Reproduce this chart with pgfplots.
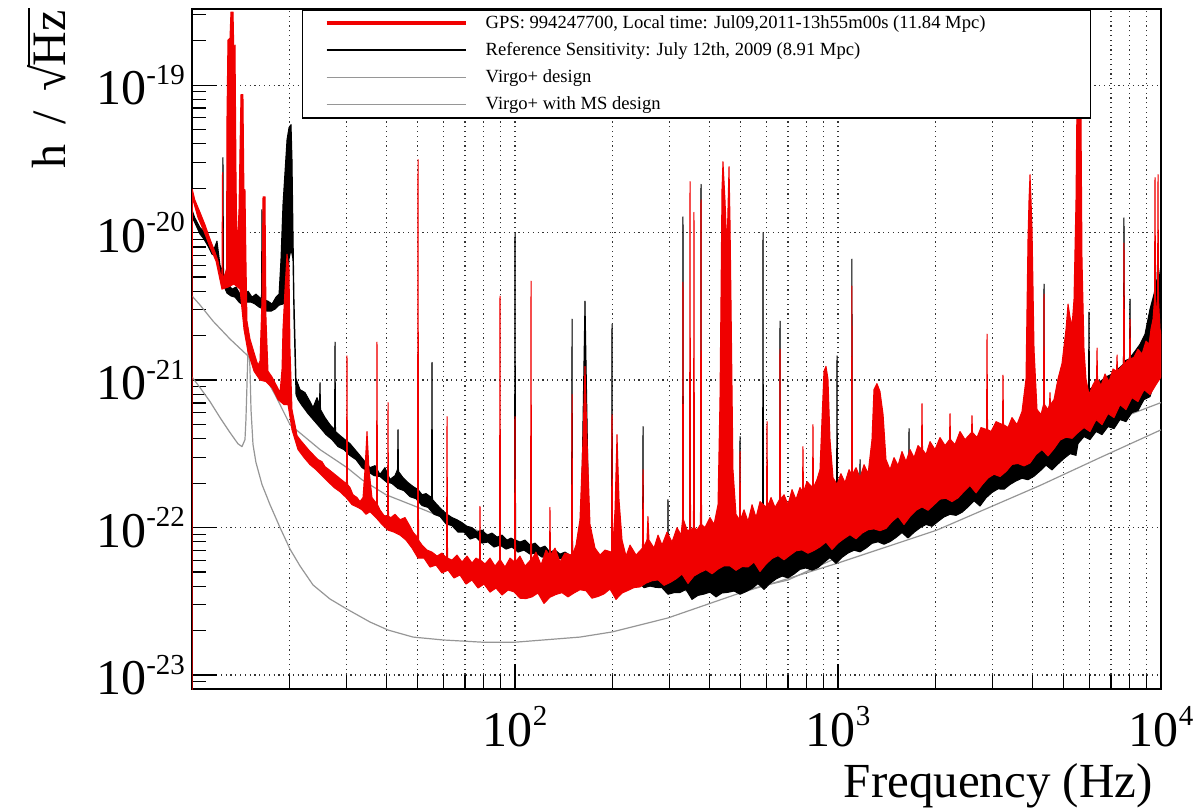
\documentclass[border=0pt]{standalone}
\usepackage{pgfplots}
\pgfplotsset{compat=1.18}
\usepackage{fontspec}
\setmainfont{Liberation Serif}
\definecolor{rootred}{RGB}{240,0,0}
\definecolor{designgray}{RGB}{150,150,150}
\newcommand{\tenpow}[1]{10\raisebox{10.4pt}{\fontsize{14.5}{16}\selectfont #1}}

\begin{document}
\begin{tikzpicture}
\useasboundingbox (-96pt,-60pt) rectangle (503.5pt,344.5pt);
\begin{axis}[
  at={(0pt,0pt)}, anchor=south west,
  scale only axis, width=484.5pt, height=340pt,
  xmode=log, ymode=log,
  xmin=10, xmax=10000, ymin=8.04e-24, ymax=3.28e-19,
  xtick={100,1000,10000},
  xticklabels={\tenpow{2},\tenpow{3},\tenpow{4}},
  minor xtick={20,30,40,50,60,70,80,90,200,300,400,500,600,700,800,900,2000,3000,4000,5000,6000,7000,8000,9000},
  ytick={1e-23,1e-22,1e-21,1e-20,1e-19},
  yticklabels={\tenpow{-23},\tenpow{-22},\tenpow{-21},\tenpow{-20},\tenpow{-19}},
  minor ytick={9e-24,2e-23,3e-23,4e-23,5e-23,6e-23,7e-23,8e-23,9e-23,2e-22,3e-22,4e-22,5e-22,6e-22,7e-22,8e-22,9e-22,2e-21,3e-21,4e-21,5e-21,6e-21,7e-21,8e-21,9e-21,2e-20,3e-20,4e-20,5e-20,6e-20,7e-20,8e-20,9e-20,2e-19,3e-19},
  tick pos=left, tick align=inside,
  major tick length=12.5pt, minor tick length=7pt,
  tick style={black, line width=0.6pt},
  axis line style={black, line width=0.8pt},
  xmajorgrids, xminorgrids, ymajorgrids,
  major grid style={black!80, line width=0.6pt, dash pattern=on 0.6pt off 1.8pt},
  minor grid style={black!80, line width=0.6pt, dash pattern=on 0.6pt off 1.8pt},
  tick label style={font=\fontsize{25}{30}\selectfont},
  xticklabel style={yshift=-5pt},
  legend style={at={(0.1135,1)}, anchor=north west, draw=black, line width=0.75pt, fill=white,
    inner xsep=11pt, inner ysep=0pt, row sep=0pt, column sep=5pt,
    font=\fontsize{9.3}{11}\selectfont,
    nodes={inner xsep=4pt, inner ysep=0pt, text height=9.5pt, text depth=4pt}},
  legend cell align=left,
  reverse legend,
]
% Virgo+ with MS design
\addplot[designgray, line width=0.6pt, line join=round,
  legend image code/.code={\draw[designgray, line width=0.6pt] (0pt,0pt) -- (69.5pt,0pt);}]
coordinates {(10.0,1.05e-21) (10.59,8.89e-22) (11.37,7.15e-22) (12.21,5.57e-22) (13.11,4.41e-22) (13.88,3.70e-22) (14.28,3.54e-22) (14.59,3.95e-22) (14.69,5.40e-22) (14.80,9.3e-22) (14.91,1.62e-21) (15.01,1.75e-21) (15.12,1.19e-21) (15.23,6.3e-22) (15.45,3.65e-22) (15.78,2.76e-22) (16.47,1.96e-22) (17.44,1.43e-22) (18.73,1.0e-22) (20.11,7.15e-23) (21.60,5.49e-23) (23.70,4.08e-23) (26.74,3.28e-23) (30.19,2.80e-23) (35.57,2.29e-23) (40.45,2.02e-23) (48.33,1.81e-23) (59.86,1.73e-23) (79.61,1.67e-23) (100,1.67e-23) (158.9,1.81e-23) (199.7,1.96e-23) (297.6,2.44e-23) (497.3,3.60e-23) (661.4,4.34e-23) (1000,5.75e-23) (2025,9.62e-23) (4222,1.93e-22) (6474,2.98e-22) (10000,4.6e-22)};
\addlegendentry{Virgo+ with MS design}
% Virgo+ design
\addplot[designgray, line width=0.6pt, line join=round,
  legend image code/.code={\draw[designgray, line width=0.6pt] (0pt,0pt) -- (69.5pt,0pt);}]
coordinates {(10,3.72e-21) (10.59,3.23e-21) (11.62,2.51e-21) (13.11,1.90e-21) (14.80,1.48e-21) (16.47,1.15e-21) (18.07,7.98e-22) (20.11,4.99e-22) (24.91,3.38e-22) (30.19,2.55e-22) (33.6,2.11e-22) (39.86,1.67e-22) (50.09,1.37e-22) (59.86,1.17e-22) (80.2,9.18e-23) (100,7.61e-23) (150.2,5.49e-23) (199.7,4.55e-23) (299.9,3.89e-23) (324.2,3.77e-23) (331.2,4.41e-23) (338.4,3.71e-23) (401.5,3.65e-23) (500.8,3.71e-23) (700.1,4.41e-23) (1000,6.3e-23) (1997,1.43e-22) (3174,2.29e-22) (5008,3.95e-22) (10000,7.04e-22)};
\addlegendentry{Virgo+ design}
% Reference sensitivity 2009: upper trace, then lower trace back
\addplot[draw=black, fill=black, line width=0.5pt, line join=round,
  legend image code/.code={\draw[black, line width=1pt] (0pt,0pt) -- (69.5pt,0pt);}]
coordinates {(10.04,1.39e-20) (10.2,1.26e-20) (10.59,1.08e-20) (10.97,1.00e-20) (11.37,8.36e-21) (11.70,7.73e-21) (11.95,8.76e-21) (12.21,6.02e-21) (12.43,5.48e-21) (12.47,3.22e-20) (12.52,5.23e-21) (12.92,4.48e-21) (13.30,4.14e-21) (13.69,4.27e-21) (14.08,3.83e-21) (14.49,3.65e-21) (14.91,4.01e-21) (15.34,3.65e-21) (15.78,3.83e-21) (16.41,3.54e-21) (16.47,1.43e-20) (16.53,3.54e-21) (17.19,3.43e-21) (17.69,3.28e-21) (18.20,3.65e-21) (18.60,3.83e-21) (18.86,6.61e-21) (19.13,1.55e-20) (19.41,2.59e-20) (19.69,4.27e-20) (19.97,5.15e-20) (20.26,5.40e-20) (20.40,3.13e-20) (20.54,1.05e-20) (20.69,3.54e-21) (20.99,1.02e-21) (21.60,8.62e-22) (22.38,8.23e-22) (23.20,7.15e-22) (23.70,6.51e-22) (24.38,7.61e-22) (24.81,6.82e-22) (24.91,9.62e-22) (25.00,6.31e-22) (25.81,5.57e-22) (26.74,4.99e-22) (27.62,4.62e-22) (27.72,1.81e-21) (27.82,4.48e-22) (28.72,4.21e-22) (29.76,3.95e-22) (30.84,3.71e-22) (31.96,3.38e-22) (33.12,3.08e-22) (34.32,2.80e-22) (35.57,2.55e-22) (36.87,2.63e-22) (38.19,2.29e-22) (39.58,2.55e-22) (41.02,2.12e-22) (42.51,2.25e-22) (43.27,2.47e-22) (43.43,4.62e-22) (43.59,2.40e-22) (45.01,2.18e-22) (46.64,2.02e-22) (48.33,1.90e-22) (50.09,1.81e-22) (51.54,1.67e-22) (53.04,1.70e-22) (55.14,1.60e-22) (55.34,1.32e-21) (55.54,1.55e-22) (57.36,1.43e-22) (59.43,1.32e-22) (61.60,1.23e-22) (63.83,1.17e-22) (66.14,1.13e-22) (68.54,1.08e-22) (71.03,1.02e-22) (73.60,1.00e-22) (76.28,9.32e-23) (79.06,9.62e-23) (81.92,8.89e-23) (84.88,9.18e-23) (87.97,8.62e-23) (91.17,8.89e-23) (94.45,8.23e-23) (97.19,8.49e-23) (99.65,8.23e-23) (100,1.00e-20) (100.4,8.23e-23) (103.6,7.98e-23) (107.4,8.23e-23) (111.3,7.61e-23) (115.3,7.85e-23) (119.5,7.26e-23) (123.8,7.49e-23) (128.3,6.82e-23) (133.0,7.04e-23) (137.8,6.61e-23) (142.8,6.82e-23) (149.6,6.41e-23) (150.2,2.59e-21) (150.7,6.41e-23) (155.6,6.21e-23) (160.1,7.61e-23) (162.4,5.40e-22) (164.7,3.43e-21) (167.1,5.40e-22) (169.5,8.23e-23) (175.6,6.21e-23) (182.0,5.84e-23) (190.0,6.02e-23) (199.0,5.75e-23) (199.7,2.40e-21) (200.4,5.75e-23) (204.0,8.23e-23) (206.9,2.47e-22) (209.9,7.61e-23) (217.6,5.57e-23) (225.4,5.84e-23) (235.2,5.40e-23) (248.1,5.57e-23) (249.1,4.84e-22) (250.0,5.57e-23) (258.0,5.40e-23) (267.5,5.75e-23) (277.2,5.31e-23) (287.2,5.57e-23) (296.6,5.48e-23) (297.6,1.55e-22) (298.7,5.48e-23) (308.5,5.31e-23) (319.6,5.57e-23) (330.1,5.48e-23) (331.2,1.28e-20) (332.4,5.48e-23) (343.2,5.40e-23) (355.7,5.66e-23) (375.2,5.48e-23) (376.6,2.12e-20) (378.0,5.48e-23) (390.2,5.40e-23) (404.5,5.75e-23) (419.2,5.48e-23) (434.2,6.02e-23) (450.0,5.75e-23) (466.4,6.21e-23) (479.8,5.84e-23) (495.5,6.21e-23) (497.3,4.14e-22) (499.1,6.21e-23) (515.2,6.41e-23) (534.1,6.02e-23) (553.4,6.61e-23) (569.4,6.31e-23) (583.9,6.82e-23) (585.9,1.00e-20) (588.0,6.82e-23) (607.3,6.61e-23) (624.8,7.26e-23) (642.7,6.82e-23) (659.1,7.38e-23) (661.4,2.51e-21) (663.8,7.38e-23) (685.4,7.49e-23) (710.3,8.23e-23) (736.0,7.85e-23) (762.7,8.76e-23) (790.3,8.23e-23) (818.9,9.32e-23) (848.6,8.89e-23) (879.4,1.00e-22) (911.3,9.47e-23) (944.6,1.06e-22) (989.5,1.03e-22) (992.9,1.46e-21) (996.5,1.03e-22) (1029,1.10e-22) (1066,1.05e-22) (1101,1.13e-22) (1104,6.61e-21) (1108,1.13e-22) (1137,1.21e-22) (1166,1.23e-22) (1170,2.89e-22) (1174,1.23e-22) (1212,1.28e-22) (1256,1.23e-22) (1302,1.37e-22) (1349,1.32e-22) (1398,1.48e-22) (1449,1.43e-22) (1502,1.55e-22) (1556,1.50e-22) (1612,1.67e-22) (1653,1.62e-22) (1659,4.69e-22) (1665,1.62e-22) (1707,1.75e-22) (1769,1.70e-22) (1859,1.87e-22) (1954,1.96e-22) (2069,2.12e-22) (2191,2.25e-22) (2319,2.40e-22) (2455,2.55e-22) (2599,2.80e-22) (2752,2.98e-22) (2914,3.22e-22) (3085,3.49e-22) (3266,3.71e-22) (3457,3.95e-22) (3660,4.27e-22) (3875,4.62e-22) (4102,4.99e-22) (4327,5.23e-22) (4343,4.48e-21) (4358,5.23e-22) (4532,5.57e-22) (4731,5.93e-22) (4938,6.31e-22) (5154,6.82e-22) (5378,7.15e-22) (5494,8.62e-22) (5614,7.98e-22) (5776,8.36e-22) (5963,8.62e-22) (5985,2.89e-21) (6006,8.62e-22) (6204,9.18e-22) (6474,9.77e-22) (6757,1.05e-21) (7053,1.10e-21) (7360,1.19e-21) (7653,1.28e-21) (7680,1.26e-20) (7708,1.35e-21) (7988,1.39e-21) (8017,3.54e-21) (8046,1.43e-21) (8307,1.57e-21) (8610,1.75e-21) (8923,2.05e-21) (9247,3.03e-21) (9512,3.83e-21) (9719,4.84e-21) (9789,7.73e-21) (9824,4.48e-21) (10000,6.12e-21)
 (10000,1.50e-21) (9650,1.05e-21) (9247,7.73e-22) (8859,7.38e-22) (8487,6.21e-22) (8131,6.02e-22) (7791,5.23e-22) (7466,5.40e-22) (7154,4.69e-22) (6854,4.84e-22) (6567,4.27e-22) (6293,4.48e-22) (6029,3.95e-22) (5776,4.14e-22) (5534,3.71e-22) (5455,3.09e-22) (5228,3.17e-22) (5008,2.94e-22) (4799,2.70e-22) (4598,2.46e-22) (4406,2.65e-22) (4222,2.42e-22) (4045,2.23e-22) (3875,2.11e-22) (3712,2.16e-22) (3557,2.07e-22) (3408,1.96e-22) (3266,1.82e-22) (3129,1.83e-22) (2998,1.73e-22) (2872,1.59e-22) (2752,1.40e-22) (2637,1.52e-22) (2526,1.38e-22) (2421,1.27e-22) (2319,1.21e-22) (2222,1.23e-22) (2129,1.18e-22) (2040,1.10e-22) (1954,1.02e-22) (1873,1.05e-22) (1794,9.96e-23) (1719,9.28e-23) (1647,8.50e-23) (1578,9.25e-23) (1512,8.57e-23) (1449,8.03e-23) (1388,7.71e-23) (1330,8.01e-23) (1274,7.82e-23) (1221,7.26e-23) (1170,6.85e-23) (1121,7.02e-23) (1074,6.72e-23) (1029,6.28e-23) (985.9,5.71e-23) (944.6,6.26e-23) (904.9,5.81e-23) (867.2,5.35e-23) (830.9,5.14e-23) (796.1,5.33e-23) (762.7,5.21e-23) (730.8,4.84e-23) (700.2,4.56e-23) (671.0,4.69e-23) (642.7,4.48e-23) (616.0,4.18e-23) (590.1,3.81e-23) (565.4,4.17e-23) (541.9,3.87e-23) (519.1,3.68e-23) (497.3,3.53e-23) (476.4,3.72e-23) (456.5,3.64e-23) (437.3,3.60e-23) (419.2,3.39e-23) (401.5,3.65e-23) (384.7,3.54e-23) (368.6,3.47e-23) (353.2,3.26e-23) (338.4,3.80e-23) (324.2,3.63e-23) (310.7,3.62e-23) (297.6,3.53e-23) (285.2,3.91e-23) (273.3,3.93e-23) (261.8,4.01e-23) (250.8,3.91e-23) (240.4,4.34e-23) (230.2,4.28e-23) (220.7,4.32e-23) (211.4,4.11e-23) (202.6,4.88e-23) (194.1,4.74e-23) (186.0,4.79e-23) (178.2,4.75e-23) (170.7,5.42e-23) (163.6,5.38e-23) (156.7,5.57e-23) (150.2,5.42e-23) (143.8,5.75e-23) (137.8,6.21e-23) (132.0,6.02e-23) (126.5,6.41e-23) (121.2,6.31e-23) (116.1,6.72e-23) (111.3,6.61e-23) (106.6,7.04e-23) (102.2,6.82e-23) (97.88,7.38e-23) (93.78,7.15e-23) (89.86,7.61e-23) (86.10,7.38e-23) (82.48,7.98e-23) (79.06,7.85e-23) (75.72,8.62e-23) (72.56,8.36e-23) (69.53,9.32e-23) (66.60,9.32e-23) (63.83,1.03e-22) (61.15,1.06e-22) (58.60,1.19e-22) (56.14,1.23e-22) (53.79,1.37e-22) (51.54,1.41e-22) (49.38,1.57e-22) (47.31,1.62e-22) (45.33,1.78e-22) (43.43,1.84e-22) (41.61,1.99e-22) (39.86,2.05e-22) (38.19,2.22e-22) (36.60,2.25e-22) (35.07,2.40e-22) (33.60,2.55e-22) (32.19,2.89e-22) (30.84,3.08e-22) (29.55,3.38e-22) (28.31,3.54e-22) (27.13,3.95e-22) (25.99,4.27e-22) (24.91,4.77e-22) (23.87,5.31e-22) (22.86,5.93e-22) (21.91,6.72e-22) (21.29,7.38e-22) (20.99,7.98e-22) (20.69,2.59e-21) (20.54,6.61e-21) (20.26,7.73e-21) (19.97,6.61e-21) (19.69,3.54e-21) (19.41,3.38e-21) (19.13,3.28e-21) (18.60,3.22e-21) (18.07,3.03e-21) (17.56,2.93e-21) (17.07,2.93e-21) (16.59,3.03e-21) (16.12,3.13e-21) (15.67,3.28e-21) (15.23,3.38e-21) (14.80,3.38e-21) (14.38,3.22e-21) (13.98,3.38e-21) (13.59,3.65e-21) (13.20,3.72e-21) (12.83,3.89e-21) (12.56,4.34e-21) (12.30,4.84e-21) (12.12,5.84e-21) (11.87,6.93e-21) (11.53,7.15e-21) (11.21,8.10e-21) (10.89,9.04e-21) (10.59,9.77e-21) (10.29,1.12e-20) (10.04,1.26e-20)};
\addlegendentry{Reference Sensitivity: July 12th, 2009 (8.91 Mpc)}
% GPS 994247700: upper trace, then lower trace back
\addplot[draw=rootred, fill=rootred, line width=0.5pt, line join=round,
  legend image code/.code={\draw[rootred, line width=2pt] (0pt,0pt) -- (69.5pt,0pt);}]
coordinates {(10,5e-24) (10.02,1.96e-20) (10.2,1.67e-20) (10.59,1.37e-20) (10.97,1.13e-20) (11.37,9.04e-21) (11.78,7.38e-21) (12.04,6.41e-21) (12.30,4.99e-21) (12.38,4.84e-21) (12.43,2.55e-20) (12.47,4.84e-21) (12.65,5.23e-21) (12.79,5.66e-21) (12.83,5.84e-20) (12.92,2.02e-19) (13.11,2.08e-19) (13.20,3.13e-19) (13.40,3.13e-19) (13.49,1.48e-19) (13.59,1.87e-19) (13.69,2.29e-20) (13.79,7.15e-21) (13.98,1.43e-20) (14.08,3.65e-20) (14.18,8.62e-20) (14.38,8.62e-20) (14.49,1.67e-20) (14.59,1.96e-20) (14.69,6.61e-21) (14.80,2.51e-21) (15.12,1.90e-21) (15.45,1.62e-21) (15.78,1.39e-21) (16.01,1.26e-21) (16.24,1.35e-21) (16.47,3.54e-21) (16.59,1.75e-20) (16.83,1.75e-20) (16.95,2.59e-21) (17.19,1.15e-21) (17.69,1.05e-21) (18.20,9.32e-22) (18.73,8.23e-22) (19.0,1.19e-21) (19.13,2.22e-21) (19.41,4.14e-21) (19.69,7.15e-21) (19.97,5.66e-21) (20.11,1.62e-21) (20.40,6.31e-22) (20.84,4.99e-22) (21.14,4.21e-22) (21.60,3.95e-22) (22.38,3.60e-22) (23.20,3.28e-22) (23.70,3.13e-22) (24.55,2.89e-22) (25.26,2.80e-22) (25.81,2.59e-22) (26.74,2.44e-22) (27.72,2.29e-22) (28.72,2.15e-22) (29.76,2.02e-22) (30.08,1.96e-22) (30.19,1.46e-21) (30.30,1.96e-22) (30.84,1.87e-22) (31.51,1.67e-22) (32.42,1.60e-22) (33.12,1.50e-22) (33.84,1.60e-22) (34.32,2.47e-22) (34.82,4.48e-22) (35.32,2.47e-22) (36.08,1.60e-22) (36.87,1.50e-22) (37.26,1.43e-22) (37.39,1.81e-21) (37.53,1.43e-22) (38.19,1.32e-22) (39.29,1.21e-22) (40.30,1.19e-22) (40.45,7.04e-22) (40.59,1.19e-22) (41.32,1.17e-22) (42.51,1.23e-22) (44.06,1.13e-22) (45.65,1.17e-22) (47.31,1.02e-22) (48.33,9.32e-23) (49.73,8.62e-23) (49.90,8.23e-23) (50.09,3.13e-20) (50.27,8.23e-23) (51.54,7.61e-23) (53.41,7.04e-23) (55.34,6.82e-23) (57.36,6.41e-23) (59.43,6.72e-23) (61.38,6.21e-23) (61.60,5.66e-22) (61.82,6.21e-23) (63.83,6.02e-23) (66.14,6.51e-23) (68.54,5.84e-23) (71.03,6.41e-23) (73.60,5.75e-23) (75.72,6.21e-23) (77.64,6.02e-23) (77.92,1.39e-22) (78.20,6.02e-23) (80.75,5.66e-23) (83.68,6.21e-23) (86.72,5.48e-23) (89.55,6.02e-23) (89.86,3.71e-21) (90.17,6.02e-23) (93.12,5.40e-23) (96.50,6.21e-23) (99.65,5.84e-23) (100,5.66e-22) (100.4,5.84e-23) (103.6,6.41e-23) (107.4,5.48e-23) (111.7,6.02e-23) (112.1,4.69e-21) (112.5,6.02e-23) (116.1,6.82e-23) (120.4,5.57e-23) (124.7,7.04e-23) (127.9,6.51e-23) (128.3,1.37e-22) (128.8,6.51e-23) (133.0,7.26e-23) (137.8,5.84e-23) (142.8,6.72e-23) (149.6,6.51e-23) (150.2,7.98e-22) (150.7,6.51e-23) (154.5,7.61e-23) (158.9,1.13e-22) (162.4,3.95e-22) (164.7,1.24e-21) (167.1,3.95e-22) (170.7,1.05e-22) (176.9,7.26e-23) (183.4,6.51e-23) (190.0,7.04e-23) (199.0,6.82e-23) (199.7,5.84e-22) (200.4,6.82e-23) (204.0,1.32e-22) (206.9,4.27e-22) (209.9,1.55e-22) (214.5,8.23e-23) (220.7,6.41e-23) (227.0,7.61e-23) (237.0,6.51e-23) (248.1,7.26e-23) (249.1,2.47e-22) (250.0,7.26e-23) (256.2,8.23e-23) (258.0,1.19e-22) (259.9,8.23e-23) (269.4,7.26e-23) (277.2,8.89e-23) (285.2,7.61e-23) (295.6,9.32e-23) (306.3,7.98e-23) (317.4,1.00e-22) (326.6,8.89e-23) (330.1,1.13e-22) (331.2,4.62e-21) (332.4,1.13e-22) (340.9,9.62e-23) (347.0,9.62e-23) (348.2,2.22e-20) (349.5,9.62e-23) (356.9,1.00e-22) (358.2,1.37e-20) (359.4,1.00e-22) (365.9,9.62e-23) (375.2,1.05e-22) (376.6,1.67e-20) (378.0,1.05e-22) (387.4,1.00e-22) (401.5,1.17e-22) (413.2,1.05e-22) (425.1,1.43e-22) (431.1,7.38e-22) (434.2,3.54e-21) (437.3,1.96e-20) (440.4,3.03e-20) (446.8,1.67e-20) (453.2,7.73e-21) (459.8,2.80e-20) (463.0,1.23e-20) (466.3,3.54e-21) (473.0,2.47e-22) (483.3,1.23e-22) (495.5,1.13e-22) (497.3,3.28e-22) (499.1,1.13e-22) (511.7,1.32e-22) (526.6,1.10e-22) (541.9,1.43e-22) (557.5,1.17e-22) (573.5,1.50e-22) (600.6,1.37e-22) (602.9,5.23e-22) (605.1,1.37e-22) (620.4,1.60e-22) (638.3,1.37e-22) (659.1,1.55e-22) (661.4,1.62e-21) (663.8,1.55e-22) (680.5,1.67e-22) (700.2,1.43e-22) (720.6,1.81e-22) (741.3,1.55e-22) (762.7,1.87e-22) (776.4,1.75e-22) (779.1,3.54e-22) (781.9,1.75e-22) (801.7,2.05e-22) (833.9,1.87e-22) (836.6,4.99e-22) (839.6,1.87e-22) (861.0,2.12e-22) (879.4,2.47e-22) (892.0,5.40e-22) (904.9,1.15e-21) (917.9,1.24e-21) (931.0,1.02e-21) (944.6,3.95e-22) (965.0,2.18e-22) (992.9,1.96e-22) (1021,2.32e-22) (1051,2.02e-22) (1082,2.47e-22) (1101,2.29e-22) (1104,4.34e-21) (1108,2.29e-22) (1137,2.55e-22) (1170,2.18e-22) (1204,2.67e-22) (1239,2.32e-22) (1274,3.95e-22) (1292,8.62e-22) (1320,9.47e-22) (1349,8.36e-22) (1379,5.84e-22) (1408,2.89e-22) (1449,2.47e-22) (1491,2.98e-22) (1534,2.63e-22) (1578,3.28e-22) (1624,2.80e-22) (1671,3.38e-22) (1719,2.98e-22) (1769,3.60e-22) (1813,3.38e-22) (1820,6.93e-22) (1827,3.38e-22) (1873,3.13e-22) (1927,3.83e-22) (1997,3.38e-22) (2069,4.08e-22) (2145,3.60e-22) (2214,3.95e-22) (2222,5.93e-22) (2230,3.95e-22) (2302,3.65e-22) (2386,4.48e-22) (2473,3.95e-22) (2590,4.41e-22) (2599,5.75e-22) (2609,4.41e-22) (2694,4.08e-22) (2771,4.77e-22) (2883,4.62e-22) (2893,2.05e-21) (2904,4.62e-22) (2977,4.48e-22) (3085,5.23e-22) (3231,4.99e-22) (3242,1.08e-21) (3254,4.99e-22) (3360,4.77e-22) (3457,5.57e-22) (3582,4.99e-22) (3712,6.12e-22) (3820,1.02e-21) (3875,9.04e-21) (3903,1.67e-20) (3931,2.47e-20) (3959,1.67e-20) (3988,1.05e-20) (4045,1.62e-21) (4132,6.31e-22) (4251,5.84e-22) (4327,6.82e-22) (4343,3.83e-21) (4358,6.82e-22) (4468,6.31e-22) (4515,6.82e-22) (4532,8.23e-22) (4548,6.82e-22) (4664,7.38e-22) (4799,1.02e-21) (4938,1.30e-21) (5081,2.22e-21) (5154,3.28e-21) (5228,2.67e-21) (5302,2.32e-21) (5378,3.54e-21) (5455,1.67e-20) (5494,7.98e-20) (5534,2.02e-19) (5614,2.02e-19) (5654,5.84e-20) (5694,6.61e-21) (5776,1.62e-21) (5859,1.02e-21) (5985,7.98e-22) (6160,9.32e-22) (6315,1.02e-21) (6338,1.65e-21) (6361,1.02e-21) (6521,9.18e-22) (6710,1.10e-21) (6902,9.77e-22) (7103,1.19e-21) (7284,1.15e-21) (7310,1.48e-21) (7336,1.15e-21) (7518,1.23e-21) (7653,1.28e-21) (7680,8.49e-21) (7708,1.28e-21) (7846,1.35e-21) (7988,1.39e-21) (8017,2.59e-21) (8046,1.39e-21) (8248,1.43e-21) (8487,1.62e-21) (8733,1.50e-21) (8986,1.84e-21) (9181,1.75e-21) (9311,2.22e-21) (9445,2.59e-21) (9547,3.54e-21) (9581,2.36e-20) (9615,3.54e-21) (9719,2.59e-21) (9754,3.54e-21) (9789,2.47e-20) (9824,3.54e-21) (9929,2.22e-21) (10000,2.05e-21)
 (10000,1.05e-21) (9650,9.32e-22) (9247,7.98e-22) (8859,8.62e-22) (8487,7.15e-22) (8131,7.61e-22) (7791,6.31e-22) (7466,6.82e-22) (7154,5.57e-22) (6854,5.93e-22) (6567,4.99e-22) (6293,5.40e-22) (6029,4.48e-22) (5776,4.77e-22) (5534,4.41e-22) (5302,4.03e-22) (5081,4.10e-22) (4868,3.92e-22) (4664,3.43e-22) (4468,3.06e-22) (4281,3.38e-22) (4102,3.13e-22) (3931,2.74e-22) (3766,2.62e-22) (3608,2.72e-22) (3457,2.68e-22) (3313,2.40e-22) (3174,2.22e-22) (3041,2.30e-22) (2914,2.17e-22) (2792,1.95e-22) (2675,1.72e-22) (2562,1.93e-22) (2455,1.76e-22) (2352,1.59e-22) (2254,1.50e-22) (2160,1.58e-22) (2069,1.56e-22) (1983,1.43e-22) (1900,1.31e-22) (1820,1.38e-22) (1744,1.31e-22) (1671,1.19e-22) (1601,1.05e-22) (1534,1.19e-22) (1470,1.10e-22) (1408,9.87e-23) (1349,9.53e-23) (1292,9.80e-23) (1239,9.67e-23) (1187,9.17e-23) (1137,8.39e-23) (1089,8.96e-23) (1044,8.43e-23) (1000,7.85e-23) (958.2,7.11e-23) (917.9,7.98e-23) (879.4,7.40e-23) (842.6,7.00e-23) (807.5,6.70e-23) (773.9,7.06e-23) (741.3,6.96e-23) (710.3,6.50e-23) (680.5,6.05e-23) (652.1,6.46e-23) (624.8,6.17e-23) (598.5,5.66e-23) (573.5,5.04e-23) (549.5,5.84e-23) (526.6,5.41e-23) (504.5,5.44e-23) (483.3,5.13e-23) (463.0,5.50e-23) (443.7,5.51e-23) (425.1,5.23e-23) (407.4,4.86e-23) (390.2,5.18e-23) (373.9,4.96e-23) (358.2,4.70e-23) (343.2,4.18e-23) (328.9,4.84e-23) (315.1,4.49e-23) (301.9,4.24e-23) (289.3,4.06e-23) (277.2,4.42e-23) (265.6,4.36e-23) (254.4,4.20e-23) (243.8,3.96e-23) (233.6,3.92e-23) (223.8,3.75e-23) (214.5,3.60e-23) (205.4,3.26e-23) (196.9,3.83e-23) (188.6,3.55e-23) (180.7,3.41e-23) (173.1,3.32e-23) (165.9,3.73e-23) (158.9,3.79e-23) (152.3,3.60e-23) (145.9,3.39e-23) (139.8,3.62e-23) (133.9,3.52e-23) (128.3,3.37e-23) (122.9,3.06e-23) (117.8,3.60e-23) (112.9,3.39e-23) (108.2,3.30e-23) (103.6,3.32e-23) (99.29,3.67e-23) (95.12,3.77e-23) (91.17,3.49e-23) (87.35,3.89e-23) (83.68,3.65e-23) (80.2,4.14e-23) (76.85,3.89e-23) (73.60,4.41e-23) (70.53,4.14e-23) (67.57,4.77e-23) (64.74,4.55e-23) (62.04,5.15e-23) (59.43,4.92e-23) (56.94,5.57e-23) (54.56,5.40e-23) (52.27,6.21e-23) (50.09,6.21e-23) (47.99,7.26e-23) (45.98,8.23e-23) (44.06,8.89e-23) (42.21,9.32e-23) (40.45,9.62e-23) (38.75,1.05e-22) (37.12,1.17e-22) (35.57,1.28e-22) (34.57,1.23e-22) (33.6,1.32e-22) (32.65,1.37e-22) (31.29,1.43e-22) (29.98,1.60e-22) (28.72,1.75e-22) (27.52,1.87e-22) (26.37,2.05e-22) (25.26,2.25e-22) (24.21,2.47e-22) (23.20,2.67e-22) (22.23,2.98e-22) (21.29,3.38e-22) (20.40,4.60e-22) (19.83,6.82e-22) (19.27,6.82e-22) (18.46,7.38e-22) (17.69,8.89e-22) (16.95,9.77e-22) (16.24,1.0e-21) (15.56,1.15e-21) (14.91,1.55e-21) (14.49,2.2e-21) (14.08,4.14e-21) (13.49,4.48e-21) (12.92,4.27e-21) (12.38,4.14e-21) (11.87,6.41e-21) (11.37,7.98e-21) (10.89,1.02e-20) (10.44,1.26e-20) (10.07,1.67e-20) (10.02,1.72e-20) (10,5e-24)};
\addlegendentry{\makebox[287.5pt][l]{GPS: 994247700, Local time: Jul09,2011-13h55m00s (11.84 Mpc)}}
\end{axis}
\node[rotate=90, anchor=base east, inner sep=0pt, font=\fontsize{24}{28}\selectfont] at (-63pt,340.5pt) {h\hspace{0.42em}/\hspace{0.42em}√\kern-0.03em\vbox{\hrule height 0.045em\kern 0.1em\hbox{Hz\kern0.04em}}};
\node[anchor=base east, inner sep=0pt, font=\fontsize{24.5}{29}\selectfont] at (480.5pt,-54pt) {Frequency (Hz)};
\end{tikzpicture}
\end{document}
